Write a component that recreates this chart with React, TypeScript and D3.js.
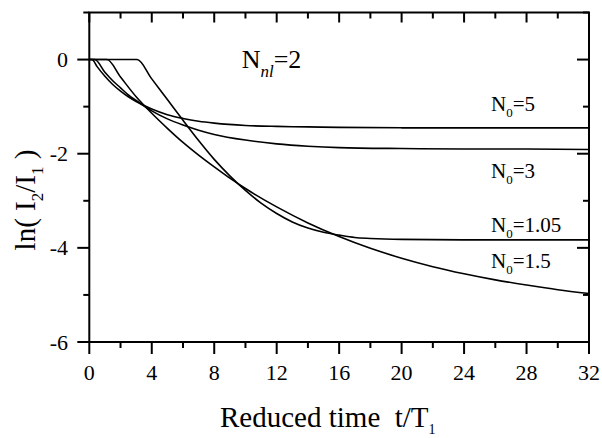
import React from "react";
import * as d3 from "d3";

const T5 = [0, 0.17, 0.5, 1, 1.5, 2, 2.5, 3, 4, 5, 6, 7, 8, 10, 12, 14, 16, 20, 24, 28, 32];
const V5 = [0, 0, -0.15, -0.355, -0.53, -0.67, -0.79, -0.89, -1.05, -1.17, -1.25, -1.31, -1.35, -1.4, -1.42, -1.43, -1.44, -1.45, -1.45, -1.45, -1.45];

const T3 = [0, 0.35, 1, 1.5, 2, 2.5, 3, 4, 5, 6, 7, 8, 10, 12, 14, 16, 20, 24, 28, 32];
const V3 = [0, 0, -0.27, -0.45, -0.6, -0.75, -0.87, -1.09, -1.26, -1.39, -1.5, -1.59, -1.71, -1.79, -1.84, -1.87, -1.89, -1.9, -1.9, -1.91];

const T105 = [0, 3.06, 4, 5, 6, 7, 8, 9, 10, 11, 12, 13, 14, 15, 16, 17, 18, 20, 24, 28, 32];
const V105 = [0, 0, -0.41, -0.85, -1.29, -1.72, -2.12, -2.47, -2.78, -3.05, -3.27, -3.45, -3.58, -3.67, -3.73, -3.78, -3.8, -3.82, -3.83, -3.83, -3.83];

const T15 = [0, 1.13, 2, 3, 4, 5, 6, 7, 8, 9, 10, 12, 14, 16, 18, 20, 22, 24, 26, 28, 30, 32];
const V15 = [0, 0, -0.37, -0.79, -1.14, -1.46, -1.76, -2.03, -2.28, -2.52, -2.74, -3.13, -3.47, -3.76, -4.01, -4.22, -4.4, -4.55, -4.68, -4.79, -4.89, -4.97];

const X_TICKS = [0, 4, 8, 12, 16, 20, 24, 28, 32];
const X_MINOR = [2, 6, 10, 14, 18, 22, 26, 30];
const Y_TICKS = [0, -2, -4, -6];
const Y_MINOR = [1, -1, -3, -5];

const SERIES = [
  { t: T5, v: V5 },
  { t: T3, v: V3 },
  { t: T105, v: V105 },
  { t: T15, v: V15 },
];

const LABELS = [
  { n: "5", y: 110.7 },
  { n: "3", y: 177.7 },
  { n: "1.05", y: 231.7 },
  { n: "1.5", y: 268.3 },
];

const FONT = "'Liberation Serif', 'Times New Roman', serif";

export default function App() {
  const L = 89.3, R = 589, T = 12.5, B = 342;
  const x = d3.scaleLinear().domain([0, 32]).range([L, R]);
  const y = d3.scaleLinear().domain([-6, 1]).range([B, T]);
  const line = d3
    .line<[number, number]>()
    .x((d) => x(d[0]))
    .y((d) => y(d[1]))
    .curve(d3.curveMonotoneX);

  return (
    <div style={{ position: "fixed", left: 0, top: 0 }}>
      <svg width={602} height={438} style={{ display: "block", background: "#fff" }} fontFamily={FONT}>
        <rect x={0} y={0} width={602} height={438} fill="#fff" />
        {SERIES.map((s, i) => (
          <path
            key={i}
            d={line(s.t.map((t, j) => [t, s.v[j]] as [number, number])) || ""}
            fill="none"
            stroke="#000"
            strokeWidth={1.6}
          />
        ))}
        <rect x={L} y={T} width={R - L} height={B - T} fill="none" stroke="#000" strokeWidth={2} />
        {X_TICKS.map((t) => (
          <g key={"xt" + t}>
            <line x1={x(t)} x2={x(t)} y1={B} y2={B + 12} stroke="#000" strokeWidth={2} />
            <line x1={x(t)} x2={x(t)} y1={T} y2={T + 10} stroke="#000" strokeWidth={2} />
            <text x={x(t)} y={380} fontSize={22} textAnchor="middle">
              {t}
            </text>
          </g>
        ))}
        {X_MINOR.map((t) => (
          <g key={"xm" + t}>
            <line x1={x(t)} x2={x(t)} y1={B} y2={B + 6} stroke="#000" strokeWidth={2} />
            <line x1={x(t)} x2={x(t)} y1={T} y2={T + 6} stroke="#000" strokeWidth={2} />
          </g>
        ))}
        {Y_TICKS.map((v) => (
          <g key={"yt" + v}>
            <line x1={L - 12} x2={L} y1={y(v)} y2={y(v)} stroke="#000" strokeWidth={2} />
            <line x1={R - 12} x2={R} y1={y(v)} y2={y(v)} stroke="#000" strokeWidth={2} />
            <text x={68} y={y(v) + 7.5} fontSize={22} textAnchor="end">
              {v}
            </text>
          </g>
        ))}
        {Y_MINOR.map((v) => (
          <g key={"ym" + v}>
            <line x1={L - 6} x2={L} y1={y(v)} y2={y(v)} stroke="#000" strokeWidth={2} />
            <line x1={R - 6} x2={R} y1={y(v)} y2={y(v)} stroke="#000" strokeWidth={2} />
          </g>
        ))}
        <text x={220} y={427} fontSize={29} xmlSpace="preserve">
          <tspan>Reduced time  t/T</tspan>
          <tspan fontSize={14} dy={7}>1</tspan>
        </text>
        <text transform="translate(35,200) rotate(-90)" fontSize={29} textAnchor="middle" xmlSpace="preserve">
          <tspan>ln( I</tspan>
          <tspan fontSize={17} dy={8}>2</tspan>
          <tspan dy={-8}>/I</tspan>
          <tspan fontSize={17} dy={8}>1</tspan>
          <tspan dy={-8}> )</tspan>
        </text>
        <text x={241.7} y={68.3} fontSize={26}>
          <tspan>N</tspan>
          <tspan fontSize={17} fontStyle="italic" dy={8.5}>nl</tspan>
          <tspan dy={-8.5}>=2</tspan>
        </text>
        {LABELS.map((l) => (
          <text key={l.n} x={491} y={l.y} fontSize={21}>
            <tspan>N</tspan>
            <tspan fontSize={13} dy={6}>0</tspan>
            <tspan dy={-6}>={l.n}</tspan>
          </text>
        ))}
      </svg>
    </div>
  );
}
